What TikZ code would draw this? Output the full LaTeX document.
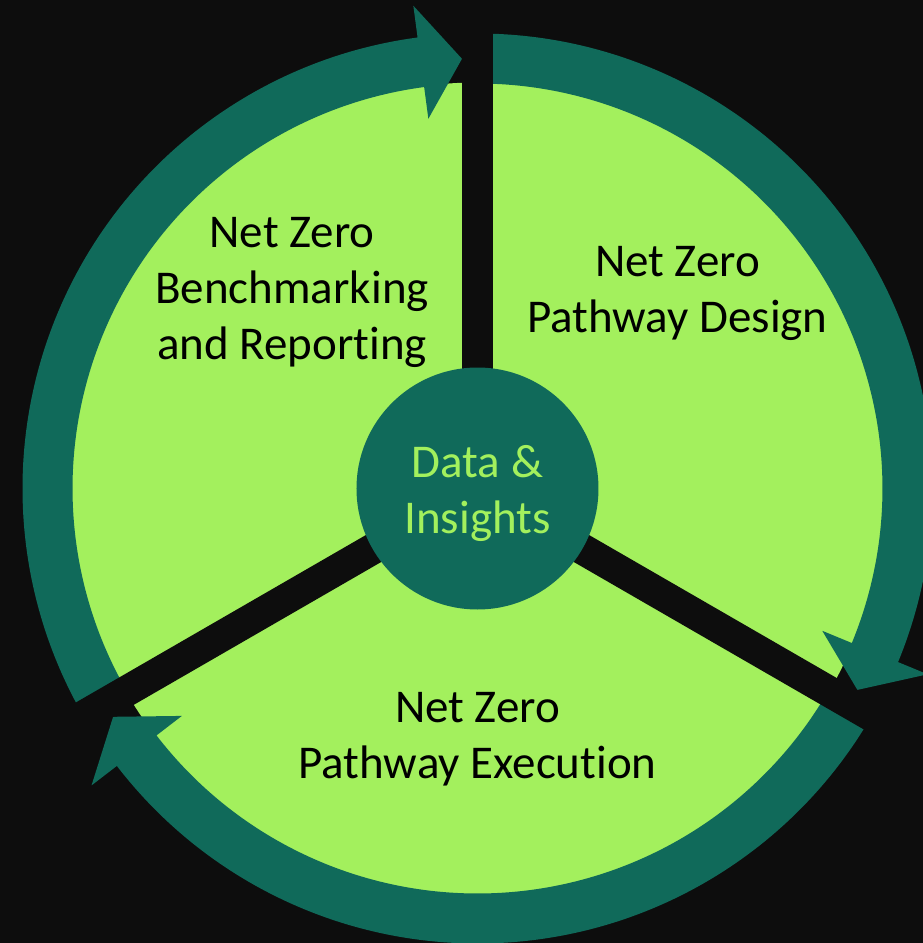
\documentclass[tikz,border=0pt]{standalone}
\usepackage{fontspec}
\setmainfont{Carlito}[Ligatures=NoCommon]
\definecolor{bgdark}{HTML}{0D0D0D}
\definecolor{leafgreen}{HTML}{A3F05D}
\definecolor{ringteal}{HTML}{106A5A}
\newcommand{\cyclefont}{\fontsize{47}{56}\selectfont}
\begin{document}
\begin{tikzpicture}[x=1pt,y=1pt,
  ringarrow/.style={fill=ringteal},
  spoke/.style={fill=bgdark},
  lbl/.style={font=\cyclefont, align=center, inner sep=0pt, anchor=base}]
\useasboundingbox (-477.5,-454.5) rectangle (445.5,488.5);
\fill[bgdark] (-477.5,-454.5) rectangle (445.5,488.5);
\fill[leafgreen] (0,0) circle (406);
\foreach \s in {90,-30,-150} {
  \pgfmathsetmacro\tip{\s-120+2.07}
  \pgfmathsetmacro\hd{\tip+5.5}
  \fill[ringarrow] (\s:455) arc[start angle=\s, end angle=\hd, radius=455]
    -- (\hd:487) -- (\tip:430) -- (\hd:373) -- (\hd:405)
    arc[start angle=\hd, end angle=\s, radius=405] -- cycle;
}
\foreach \a in {90,-30,210}
  \fill[spoke, rotate=\a] (0,-15.5) rectangle (500,15.5);
\node[circle, fill=ringteal, minimum size=242pt, inner sep=0pt] (hub) at (0,0) {};
\node[lbl, text=leafgreen] (data) at (0,-44.5) {Data \&\\Insights};
\node[lbl] (bench) at (-185.5,128.5) {Net Zero\\Benchmarking\\and Reporting};
\node[lbl] (design) at (200,156.5) {Net Zero\\Pathway Design};
\node[lbl] (exec) at (0,-289.5) {Net Zero\\Pathway Execution};
\end{tikzpicture}
\end{document}
